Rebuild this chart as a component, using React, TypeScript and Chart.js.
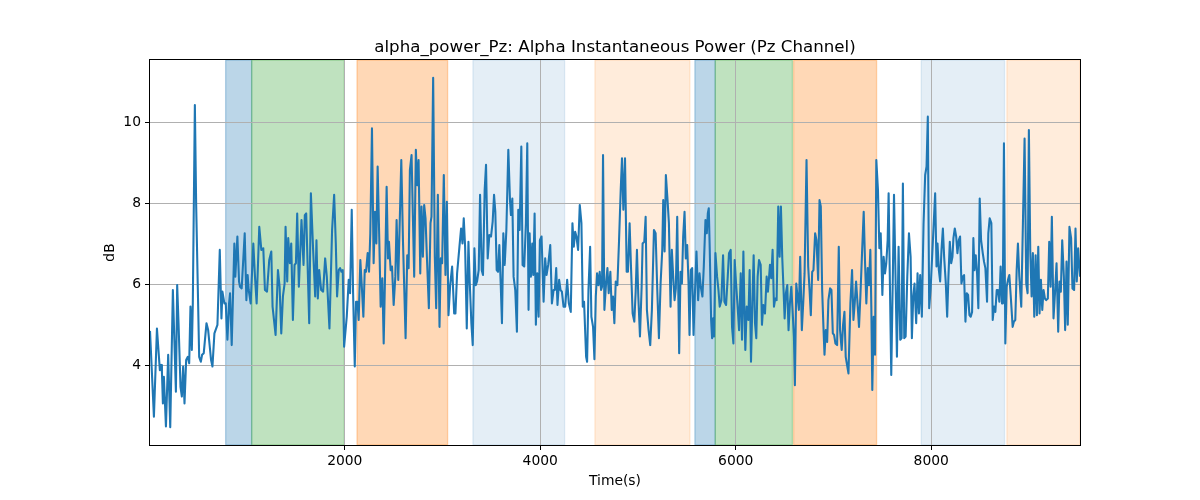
import React, { useEffect, useRef } from 'react';
import { Chart, registerables } from 'chart.js';

Chart.register(...registerables);

const TITLE = 'alpha_power_Pz: Alpha Instantaneous Power (Pz Channel)';
const X_LABEL = 'Time(s)';
const Y_LABEL = 'dB';

const timeSec = [
  7, 47, 78, 108, 122, 129, 139, 149, 170, 193, 214, 241, 272, 285, 299, 319, 333, 346, 360, 377, 394, 408, 421, 435, 445, 466, 479, 510, 527, 540, 557, 585, 602, 632, 646, 666, 697, 721, 738, 748, 768, 782, 799, 816, 826, 843, 870, 880, 901, 918,
  928, 945, 976, 993, 1006, 1017, 1037, 1064, 1081, 1098, 1125, 1146, 1166, 1183, 1204, 1227, 1248, 1261, 1292, 1316, 1333, 1350, 1367, 1384, 1394, 1411, 1421, 1438, 1452, 1469, 1486, 1500, 1513, 1530, 1557, 1578, 1591, 1605, 1636, 1653, 1676, 1697, 1710, 1724, 1738, 1758, 1778, 1799,
  1816, 1843, 1870, 1891, 1908, 1921, 1938, 1952, 1966, 1979, 1993, 2020, 2040, 2054, 2071, 2085, 2102, 2115, 2129, 2142, 2159, 2176, 2190, 2204, 2217, 2234, 2248, 2261, 2278, 2295, 2309, 2323, 2336, 2353, 2367, 2384, 2398, 2411, 2428, 2442, 2452, 2469, 2483, 2500, 2517, 2530, 2547, 2578, 2595, 2622, 2639, 2653, 2666, 2683,
  2710, 2727, 2741, 2755, 2772, 2785, 2799, 2812, 2826, 2840, 2860, 2877, 2887, 2904, 2921, 2935, 2952, 2969, 2982, 2996, 3013, 3030, 3044, 3061, 3078, 3098, 3119, 3132, 3149, 3173, 3190, 3204, 3217, 3231, 3248, 3265, 3278, 3295, 3309, 3326, 3340, 3353, 3370, 3384, 3401, 3414, 3431, 3445, 3462, 3479, 3496, 3513, 3527, 3540, 3554, 3568, 3581,
  3595, 3608, 3622, 3636, 3653, 3673, 3690, 3700, 3714, 3727, 3744, 3761, 3775, 3789, 3806, 3819, 3836, 3853, 3867, 3880, 3891, 3904, 3918, 3928, 3942, 3955, 3969, 3983, 3996, 4013, 4034, 4050, 4064, 4081, 4102, 4119, 4136, 4149, 4163, 4176, 4193, 4207, 4221, 4238, 4255, 4275, 4292, 4312, 4329, 4343, 4357, 4370, 4387, 4404, 4421, 4435, 4448, 4469,
  4479, 4493, 4510, 4523, 4540, 4554, 4568, 4581, 4595, 4608, 4622, 4632, 4642, 4656, 4673, 4687, 4700, 4717, 4731, 4744, 4758, 4772, 4789, 4806, 4823, 4836, 4850, 4867, 4884, 4897, 4914, 4928, 4945, 4962, 4976, 4989, 5003, 5020, 5037, 5047, 5064, 5078, 5091, 5108, 5125, 5142, 5163, 5180, 5197, 5214, 5231, 5248, 5258, 5272, 5285, 5302, 5316, 5333, 5346,
  5360, 5374, 5387, 5401, 5411, 5421, 5435, 5449, 5462, 5476, 5489, 5503, 5517, 5527, 5540, 5554, 5568, 5581, 5598, 5615, 5629, 5642, 5659, 5673, 5690, 5704, 5714, 5724, 5734, 5748, 5758, 5768, 5778, 5792, 5809, 5823, 5836, 5853, 5870, 5884, 5901, 5918, 5931, 5948, 5962, 5976, 5989, 6003, 6017, 6034, 6051, 6064, 6078, 6088, 6098, 6112, 6129, 6142, 6156, 6170, 6183, 6197, 6210, 6224, 6238,
  6255, 6268, 6282, 6299, 6316, 6329, 6340, 6350, 6363, 6377, 6391, 6404, 6418, 6435, 6449, 6462, 6476, 6489, 6500, 6513, 6527, 6540, 6554, 6568, 6581, 6595, 6605, 6619, 6632, 6646, 6659, 6676, 6690, 6704, 6724, 6741, 6755, 6768, 6782, 6795, 6812, 6826, 6843, 6857, 6870, 6884, 6897, 6908, 6921, 6935, 6948, 6965, 6979, 6993, 7006, 7020, 7037, 7054, 7067, 7084, 7098, 7112, 7125,
  7136, 7153, 7173, 7190, 7204, 7217, 7231, 7248, 7261, 7275, 7292, 7309, 7323, 7336, 7350, 7363, 7377, 7387, 7397, 7411, 7425, 7438, 7455, 7469, 7483, 7500, 7513, 7527, 7540, 7554, 7564, 7578, 7591, 7608, 7619, 7632, 7649, 7666, 7683, 7697, 7710, 7724, 7738, 7755, 7772, 7789, 7802, 7816, 7829, 7846, 7860, 7874, 7887, 7904, 7921, 7938, 7952, 7965, 7979, 7993,
  8040, 8054, 8064, 8078, 8091, 8105, 8119, 8132, 8149, 8163, 8176, 8190, 8204, 8217, 8227, 8241, 8255, 8268, 8282, 8295, 8309, 8323, 8336, 8350, 8363, 8377, 8391, 8404, 8418, 8431, 8442, 8455, 8469, 8482, 8496, 8510, 8527, 8540, 8554, 8571, 8584, 8598, 8615, 8629, 8642, 8656, 8670, 8683, 8697, 8710, 8724, 8734, 8744, 8758, 8772, 8785, 8799, 8816, 8833, 8846, 8860, 8874, 8887, 8901,
  8921, 8938, 8955, 8972, 8986, 8999, 9013, 9027, 9040, 9054, 9068, 9081, 9095, 9108, 9122, 9136, 9149, 9163, 9176, 9193, 9207, 9221, 9234, 9251, 9268, 9282, 9299, 9312, 9326, 9340, 9357, 9370, 9384, 9397, 9414, 9431, 9445, 9462, 9476, 9489, 9503, 9522,
];

const powerDb = [
  4.85, 2.73, 4.91, 3.88, 4.01, 3.84, 3.06, 3.72, 2.49, 4.26, 2.47, 5.86, 3.35, 5.98, 5.04, 3.47, 3.23, 3.97, 3.06, 4.13, 4.21, 4.05, 5.45, 4.38, 5.53, 10.43, 8.0, 4.21, 4.09, 4.26, 4.3, 5.04, 4.87, 4.13, 3.97, 4.79, 5.0, 6.85, 5.16, 5.82, 5.53, 5.53, 4.63, 5.53, 5.78, 4.5, 7.01, 6.19, 7.18, 6.07,
  5.94, 5.9, 7.26, 5.61, 6.23, 5.86, 5.53, 7.01, 6.19, 5.53, 7.42, 6.85, 6.89, 5.86, 5.82, 6.6, 6.81, 5.45, 4.75, 6.35, 5.94, 4.79, 5.7, 6.02, 7.42, 6.07, 7.14, 6.52, 7.01, 5.12, 6.48, 6.52, 7.75, 5.94, 7.59, 6.48, 7.71, 7.75, 5.04, 8.25, 6.85, 5.7, 7.09, 5.65, 6.35, 5.86, 5.82, 6.64,
  6.19, 4.91, 7.34, 8.21, 7.01, 5.7, 6.35, 6.4, 6.31, 6.35, 4.46, 5.2, 6.11, 5.78, 7.84, 5.78, 3.97, 5.57, 5.57, 5.12, 6.6, 5.86, 5.2, 6.35, 6.31, 6.77, 6.31, 7.26, 9.85, 6.52, 7.79, 7.01, 8.91, 7.09, 5.45, 6.15, 4.54, 6.11, 8.41, 6.64, 7.05, 6.35, 6.44, 5.49, 6.19, 7.59, 6.11, 9.07, 7.09, 4.67, 6.72, 6.4, 8.82, 9.19,
  6.19, 9.32, 8.45, 9.07, 6.27, 7.92, 6.68, 7.96, 7.63, 6.68, 5.41, 7.51, 7.67, 11.1, 6.68, 5.41, 8.21, 4.95, 6.64, 6.52, 8.7, 6.23, 8.04, 5.24, 5.98, 6.44, 5.28, 5.28, 6.27, 6.93, 7.38, 7.01, 7.63, 6.93, 4.91, 7.05, 6.07, 5.04, 4.5, 6.89, 5.98, 6.07, 6.35, 8.21, 6.35, 6.23, 8.33, 8.95, 6.64, 7.22, 7.18, 7.55, 8.21, 7.79, 6.35, 6.31, 6.97,
  6.02, 5.04, 7.26, 6.48, 7.34, 9.32, 8.08, 7.71, 8.12, 6.19, 5.86, 4.83, 7.84, 7.34, 9.4, 6.48, 6.44, 7.51, 9.48, 5.37, 7.26, 6.19, 7.01, 6.23, 7.75, 5.0, 6.27, 5.2, 7.09, 7.18, 5.57, 6.64, 6.23, 6.48, 6.97, 5.53, 5.86, 5.86, 6.4, 5.49, 6.11, 5.86, 5.82, 5.45, 5.45, 6.11, 5.53, 5.32, 7.51, 6.93, 7.3, 7.18, 6.85, 7.96, 7.51, 5.45, 5.57, 4.21,
  4.09, 5.86, 6.93, 5.2, 4.95, 4.15, 5.7, 6.27, 5.98, 6.31, 5.86, 5.94, 9.19, 5.37, 6.02, 6.4, 5.78, 6.31, 5.37, 5.7, 5.04, 6.07, 5.98, 7.09, 8.33, 9.11, 7.84, 9.11, 6.31, 6.31, 7.51, 6.44, 5.28, 5.08, 5.82, 6.85, 5.7, 4.71, 5.94, 7.01, 7.05, 7.67, 5.37, 4.87, 4.5, 5.37, 7.34, 7.26, 5.86, 4.67, 6.02, 6.85, 8.08, 6.81, 8.7, 8.08, 7.51, 5.45, 6.85,
  6.19, 5.61, 5.9, 7.67, 6.02, 4.3, 6.31, 6.02, 7.18, 7.79, 6.64, 6.97, 6.02, 4.75, 6.35, 6.4, 4.75, 5.7, 6.81, 5.61, 6.27, 5.94, 5.7, 6.44, 7.59, 7.26, 7.75, 7.88, 6.85, 5.12, 4.67, 5.16, 4.71, 6.77, 6.19, 5.86, 5.45, 5.61, 6.72, 5.57, 5.49, 6.19, 6.77, 6.85, 4.95, 4.54, 6.6, 6.02, 5.53, 4.87, 6.27, 4.63, 6.81, 5.45, 4.38, 5.45, 5.12, 6.35, 4.09, 5.53, 6.72, 5.04, 4.67, 6.19, 6.6,
  6.48, 5.0, 5.49, 5.28, 6.19, 5.82, 6.15, 6.48, 6.15, 6.85, 5.45, 5.65, 5.61, 7.92, 6.68, 7.92, 6.64, 5.86, 5.16, 5.78, 5.98, 4.87, 5.53, 5.94, 5.37, 4.71, 3.51, 6.02, 5.7, 5.37, 6.68, 4.87, 5.53, 6.27, 9.07, 6.44, 5.86, 5.24, 6.31, 6.35, 7.26, 7.09, 6.11, 8.08, 7.92, 5.86, 4.95, 4.26, 4.87, 4.58, 5.61, 5.9, 5.86, 4.79, 4.75, 4.54, 4.5, 6.93, 4.87, 4.38, 5.0, 5.32, 4.21,
  4.05, 3.8, 5.53, 6.35, 5.12, 5.53, 6.07, 5.45, 4.95, 5.7, 6.77, 7.79, 6.52, 5.53, 6.4, 5.98, 6.85, 5.45, 3.39, 5.2, 4.26, 9.07, 8.33, 6.89, 7.26, 5.74, 6.68, 6.27, 6.52, 7.09, 8.25, 5.86, 3.76, 6.35, 8.21, 6.52, 4.21, 6.93, 4.63, 4.67, 8.49, 4.67, 4.71, 6.19, 7.26, 6.68, 4.67, 5.7, 6.02, 5.04, 6.27, 5.28, 6.23, 5.2, 7.47, 8.7, 8.91, 10.14, 5.41, 5.86,
  8.25, 6.44, 7.01, 6.35, 6.07, 6.85, 7.38, 6.68, 6.02, 5.2, 6.19, 7.05, 6.52, 6.68, 7.14, 7.38, 7.18, 6.77, 7.09, 7.18, 6.02, 6.19, 6.23, 5.08, 5.78, 5.74, 5.24, 5.2, 5.32, 7.14, 6.35, 6.72, 6.27, 5.41, 8.12, 7.09, 6.77, 6.56, 6.4, 5.57, 7.26, 7.63, 7.51, 5.12, 5.45, 5.32, 5.86, 5.86, 5.57, 6.44, 5.53, 6.31, 9.48, 4.54, 5.94, 6.11, 6.23, 5.61, 4.95, 5.08, 5.12, 6.35, 7.01, 6.19,
  5.45, 7.51, 9.6, 6.02, 5.78, 9.81, 6.85, 5.7, 6.77, 5.2, 6.72, 5.24, 6.93, 5.28, 6.11, 5.37, 5.86, 5.65, 5.61, 5.65, 7.05, 5.94, 7.67, 5.16, 5.86, 6.52, 4.83, 6.07, 5.82, 7.09, 6.19, 4.87, 6.56, 5.0, 7.42, 7.14, 5.9, 5.86, 7.38, 6.07, 6.89, 6.19,
];

const xTicks = [2000, 4000, 6000, 8000];
const yTicks = [4, 6, 8, 10];
const xRange = [7, 9522];
const yRange = [2.033, 11.539];

const bandStart = [781, 1047, 2125, 3311, 4559, 5582, 5790, 6592, 7898, 8774];
const bandEnd = [1047, 1995, 3052, 4249, 5531, 5790, 6580, 7441, 8750, 9522];
const bandColor = [
  'rgba(31,119,180,0.3)',
  'rgba(44,160,44,0.3)',
  'rgba(255,127,14,0.3)',
  'rgba(31,119,180,0.12)',
  'rgba(255,127,14,0.15)',
  'rgba(31,119,180,0.3)',
  'rgba(44,160,44,0.3)',
  'rgba(255,127,14,0.3)',
  'rgba(31,119,180,0.12)',
  'rgba(255,127,14,0.15)',
];

const FONT = 'DejaVu Sans';

export default function App() {
  const ref = useRef<HTMLCanvasElement>(null);

  useEffect(() => {
    document.body.style.margin = '0';
    const canvas = ref.current;
    if (!canvas) return;

    const bandsPlugin = {
      id: 'bands',
      beforeDraw(chart: any) {
        const { ctx, chartArea: a, scales } = chart;
        const x = scales.x;
        ctx.save();
        ctx.fillStyle = '#fff';
        ctx.fillRect(0, 0, chart.width, chart.height);
        ctx.beginPath();
        ctx.rect(a.left, a.top, a.right - a.left, a.bottom - a.top);
        ctx.clip();
        for (let i = 0; i < bandStart.length; i++) {
          const x0 = x.getPixelForValue(bandStart[i]);
          const x1 = x.getPixelForValue(bandEnd[i]);
          ctx.fillStyle = bandColor[i];
          ctx.fillRect(x0, a.top, x1 - x0, a.bottom - a.top);
          ctx.strokeStyle = bandColor[i];
          ctx.lineWidth = 1.33;
          ctx.strokeRect(x0, a.top, x1 - x0, a.bottom - a.top);
        }
        ctx.restore();
      },
      afterDraw(chart: any) {
        const { ctx, chartArea: a } = chart;
        ctx.save();
        ctx.strokeStyle = '#000';
        ctx.lineWidth = 1;
        ctx.strokeRect(a.left - 0.5, a.top - 0.5, a.right - a.left + 1, a.bottom - a.top + 1);
        ctx.fillStyle = '#000';
        ctx.font = `16.67px "${FONT}"`;
        ctx.textAlign = 'center';
        ctx.textBaseline = 'alphabetic';
        ctx.fillText(TITLE, (a.left + a.right) / 2, 52);
        ctx.restore();
      },
    };

    const tickFont = { family: FONT, size: 13.89 };

    const chart = new Chart(canvas, {
      type: 'line',
      data: {
        datasets: [
          {
            data: timeSec.map((t, i) => ({ x: t, y: powerDb[i] })),
            borderColor: '#1f77b4',
            borderWidth: 2.08,
            pointRadius: 0,
            tension: 0,
            fill: false,
            borderJoinStyle: 'round',
          },
        ],
      },
      options: {
        animation: false,
        responsive: false,
        devicePixelRatio: 1,
        events: [],
        layout: { padding: { top: 60, right: 120, bottom: 0, left: 0 } },
        plugins: {
          legend: { display: false },
          tooltip: { enabled: false },
          title: { display: false },
        },
        scales: {
          x: {
            type: 'linear',
            min: xRange[0],
            max: xRange[1],
            afterBuildTicks: (s: any) => {
              s.ticks = xTicks.map((v) => ({ value: v }));
            },
            afterFit: (s: any) => {
              s.height = 55;
            },
            ticks: {
              color: '#000',
              font: tickFont,
              padding: 3,
              maxRotation: 0,
              autoSkip: false,
              callback: (v: any) => String(v),
            },
            grid: {
              color: '#b0b0b0',
              lineWidth: 1,
              tickColor: '#000',
              tickLength: 5,
              tickWidth: 1,
            },
            border: { display: false },
            title: {
              display: true,
              text: X_LABEL,
              color: '#000',
              font: tickFont,
              padding: { top: 0, bottom: 10 },
            },
          },
          y: {
            type: 'linear',
            min: yRange[0],
            max: yRange[1],
            afterBuildTicks: (s: any) => {
              s.ticks = yTicks.map((v) => ({ value: v }));
            },
            afterFit: (s: any) => {
              s.width = 150;
            },
            ticks: {
              color: '#000',
              font: tickFont,
              padding: 4,
              autoSkip: false,
              callback: (v: any) => String(v),
            },
            grid: {
              color: '#b0b0b0',
              lineWidth: 1,
              tickColor: '#000',
              tickLength: 5,
              tickWidth: 1,
            },
            border: { display: false },
            title: {
              display: true,
              text: Y_LABEL,
              color: '#000',
              font: tickFont,
              padding: { top: 102, bottom: 0 },
            },
          },
        },
      },
      plugins: [bandsPlugin],
    } as any);

    return () => chart.destroy();
  }, []);

  return (
    <div style={{ width: 1200, height: 500 }}>
      <canvas ref={ref} width={1200} height={500} style={{ display: 'block' }} />
    </div>
  );
}
